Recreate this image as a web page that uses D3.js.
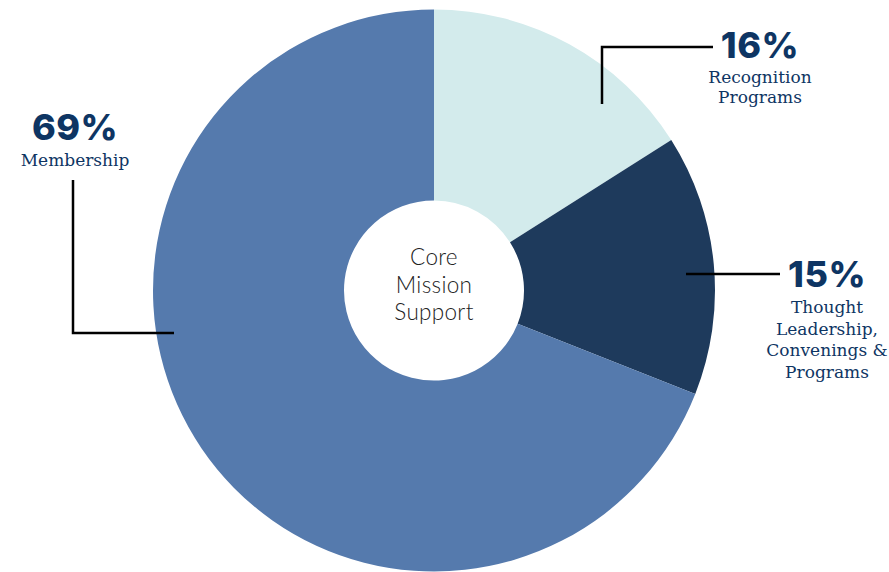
<!DOCTYPE html>
<html>
<head>
<meta charset="utf-8">
<script src="https://cdn.jsdelivr.net/npm/d3@7"></script>
<style>
  html, body { margin: 0; padding: 0; background: #fff; }
  svg { display: block; }
</style>
</head>
<body>
<svg id="chart" width="889" height="572"></svg>
<script>
// ---- data ----
const categories = ["Recognition Programs", "Thought Leadership, Convenings & Programs", "Membership"];
const values = [16, 15, 69];
const percentLabels = ["16%", "15%", "69%"];
const nameLines = [["Recognition", "Programs"], ["Thought", "Leadership,", "Convenings &", "Programs"], ["Membership"]];
const colors = ["#D3EBEC", "#1E3A5C", "#557AAD"];
const centerLines = ["Core", "Mission", "Support"];

// ---- layout ----
const W = 889, H = 572;
const cx = 434, cy = 290.5, outerR = 281, innerR = 90;
const textColor = "#0E3563";

const svg = d3.select("#chart");
const g = svg.append("g").attr("transform", `translate(${cx},${cy})`);

const pie = d3.pie().sort(null).value(d => d.value).startAngle(0).endAngle(2 * Math.PI);
const data = categories.map((c, i) => ({ name: c, value: values[i], color: colors[i], pct: percentLabels[i], lines: nameLines[i] }));
const arcs = pie(data);
const arc = d3.arc().innerRadius(innerR).outerRadius(outerR);

g.selectAll("path.slice").data(arcs).enter().append("path")
  .attr("class", "slice")
  .attr("d", arc)
  .attr("fill", d => d.data.color);

// center label
const ct = g.append("text")
  .attr("text-anchor", "middle")
  .attr("font-family", "Lato, 'Open Sans', sans-serif")
  .attr("font-weight", 300)
  .attr("font-size", 22.5)
  .attr("letter-spacing", 0.3)
  .attr("fill", "#222");
centerLines.forEach((t, i) => {
  ct.append("tspan").attr("x", 0).attr("y", -25.5 + i * 27.5).text(t);
});

// label placement (annotation layout, in page coordinates)
const labelLayout = [
  { px: 760, py: 58, lineGap: 19.5, firstGap: 25, leader: [[602, 104], [602, 47], [713, 47]] },
  { px: 827, py: 287, lineGap: 21.7, firstGap: 26, leader: [[686, 274], [780, 274]] },
  { px: 75, py: 139.5, lineGap: 20, firstGap: 26, leader: [[73, 180], [73, 333], [174, 333]] }
];

const line = d3.line();
arcs.forEach((a, i) => {
  const L = labelLayout[i];
  svg.append("path")
    .attr("d", line(L.leader))
    .attr("fill", "none")
    .attr("stroke", "#000")
    .attr("stroke-width", 2.5);

  svg.append("text")
    .attr("x", L.px).attr("y", L.py)
    .attr("text-anchor", "middle")
    .attr("font-family", "Inter, 'DejaVu Sans', sans-serif")
    .attr("font-weight", 800)
    .attr("font-size", 36)
    .attr("letter-spacing", 0.5)
    .attr("fill", textColor)
    .text(a.data.pct);

  const t = svg.append("text")
    .attr("text-anchor", "middle")
    .attr("font-family", "'DejaVu Serif', serif")
    .attr("font-size", 17)
    .attr("fill", textColor);
  a.data.lines.forEach((s, k) => {
    t.append("tspan").attr("x", L.px).attr("y", L.py + L.firstGap + k * L.lineGap).text(s);
  });
});
</script>
</body>
</html>
